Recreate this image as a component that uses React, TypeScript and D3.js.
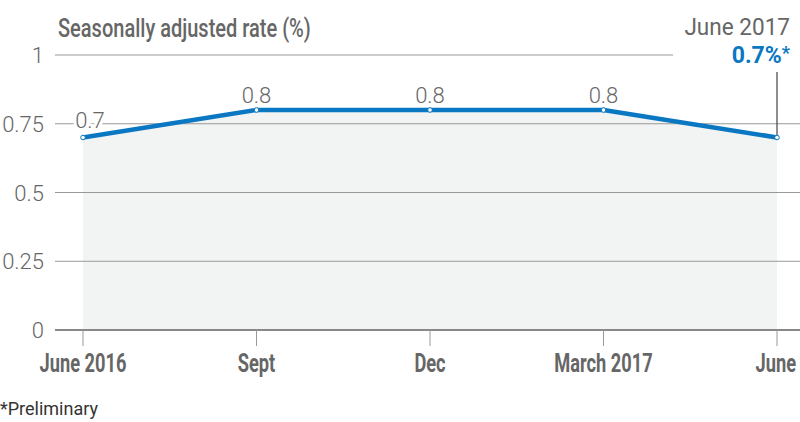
import * as d3 from 'd3';

const periods = ['June 2016', 'Sept', 'Dec', 'March 2017', 'June'];
const rates = [0.7, 0.8, 0.8, 0.8, 0.7];
const valueLabels = ['0.7', '0.8', '0.8', '0.8', ''];
const yTicks = [0, 0.25, 0.5, 0.75, 1];

const W = 800;
const H = 422;
const sans = 'Roboto, "Open Sans", sans-serif';
const grey = '#666';
const blue = '#0a77c2';
// no condensed face is installed, so squeeze Roboto horizontally
const squeeze = 0.73;

export default function App() {
  const x = d3.scalePoint<string>().domain(periods).range([83, 777]);
  const y = d3.scaleLinear().domain([0, 1]).range([330, 55]);

  const pts = periods.map((p, i) => ({ p, v: rates[i], lab: valueLabels[i] }));

  const line = d3
    .line<{ p: string; v: number }>()
    .x((d) => x(d.p)!)
    .y((d) => y(d.v));
  const area = d3
    .area<{ p: string; v: number }>()
    .x((d) => x(d.p)!)
    .y0(y(0))
    .y1((d) => y(d.v));

  const last = pts[pts.length - 1];
  const lastIdx = periods.length - 1;

  return (
    <svg
      width={W}
      height={H}
      style={{ position: 'absolute', left: 0, top: 0, background: '#fff' }}
    >
      <text
        transform="translate(58,37) scale(0.77,1)"
        fontFamily={sans}
        fontWeight={500}
        fontSize={26}
        fill={grey}
      >
        Seasonally adjusted rate (%)
      </text>

      <path d={area(pts)!} fill="#f2f3f3" />

      {yTicks.map((t) => (
        <g key={t}>
          {t > 0 && (
            <line
              x1={55}
              x2={t === 1 ? 673 : W}
              y1={y(t)}
              y2={y(t)}
              stroke="#999"
              strokeWidth={1}
            />
          )}
          <text
            x={44}
            y={y(t) + 8}
            textAnchor="end"
            fontFamily={sans}
            fontWeight={300}
            fontSize={22}
            fill={grey}
          >
            {t}
          </text>
        </g>
      ))}

      <line x1={55} x2={W} y1={y(0)} y2={y(0)} stroke="#888" strokeWidth={2} />
      {periods.map((p, i) => (
        <g key={p}>
          <line x1={x(p)} x2={x(p)} y1={y(0)} y2={y(0) + 16} stroke="#999" strokeWidth={1} />
          <text
            transform={`translate(${i === lastIdx ? W - 4 : x(p)},372) scale(${squeeze},1)`}
            textAnchor={i === lastIdx ? 'end' : 'middle'}
            fontFamily={sans}
            fontWeight="bold"
            fontSize={25}
            fill={grey}
          >
            {p}
          </text>
        </g>
      ))}

      <line
        x1={x(last.p)}
        x2={x(last.p)}
        y1={72}
        y2={y(last.v)}
        stroke="#444"
        strokeWidth={1.2}
      />

      <path d={line(pts)!} fill="none" stroke={blue} strokeWidth={4.5} strokeLinejoin="round" />
      {pts.map((d, i) => (
        <circle key={i} cx={x(d.p)} cy={y(d.v)} r={2.3} fill="#fff" stroke={blue} strokeWidth={1} />
      ))}

      {pts.map((d, i) =>
        d.lab ? (
          <text
            key={'l' + i}
            x={i === 0 ? x(d.p)! + 7 : x(d.p)}
            y={y(d.v) - (i === 0 ? 10 : 7)}
            textAnchor="middle"
            fontFamily={sans}
            fontWeight={300}
            fontSize={22}
            fill={grey}
            stroke={i === 0 ? '#fff' : 'none'}
            strokeWidth={i === 0 ? 6 : 0}
            paintOrder="stroke"
          >
            {d.lab}
          </text>
        ) : null
      )}

      <text
        transform="translate(790,35) scale(0.94,1)"
        textAnchor="end"
        fontFamily={sans}
        fontSize={24}
        fill={grey}
      >
        June 2017
      </text>
      <text x={790} y={63} textAnchor="end" fontFamily={sans} fontWeight="bold" fontSize={23} fill={blue}>
        0.7%
        <tspan fontSize={18} dy={-4}>*</tspan>
      </text>

      <text x={0} y={415} fontFamily={sans} fontSize={18} fill="#333">
        *Preliminary
      </text>
    </svg>
  );
}
